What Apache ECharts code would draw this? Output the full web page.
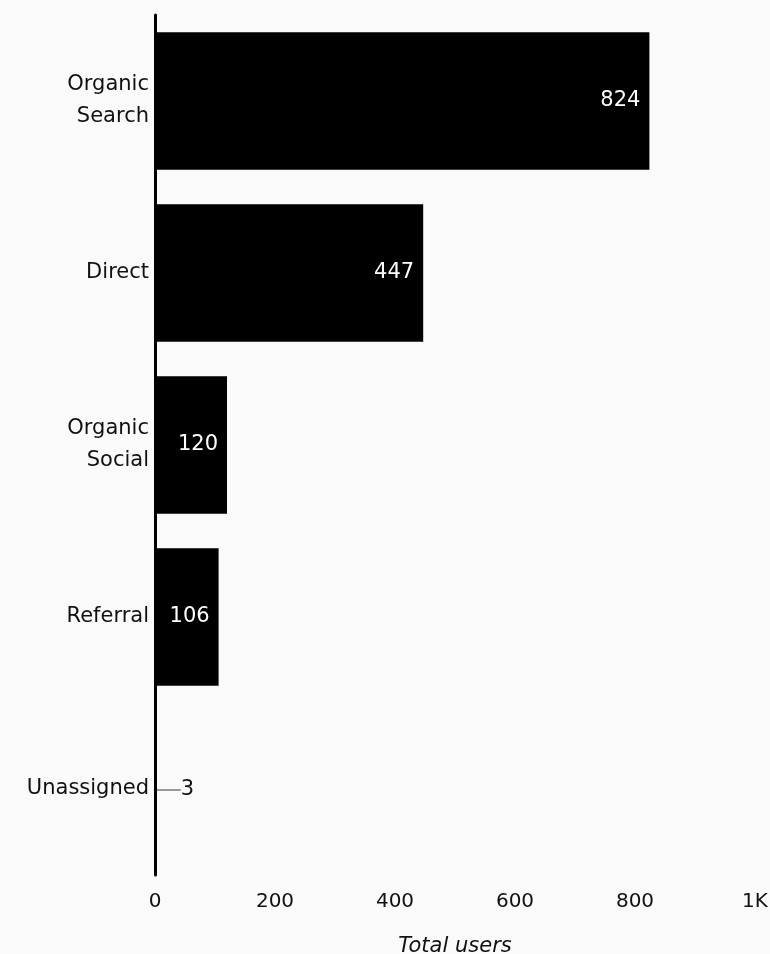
<!DOCTYPE html>
<html>
<head>
<meta charset="utf-8">
<script src="https://cdn.jsdelivr.net/npm/echarts@6/dist/echarts.min.js"></script>
<style>
  html, body { margin: 0; padding: 0; background: #fafafa; }
  #chart { width: 770px; height: 954px; }
</style>
</head>
<body>
<div id="chart"></div>
<script>
// Users by session channel
const channels = ['Organic\nSearch', 'Direct', 'Organic\nSocial', 'Referral', 'Unassigned'];
const totalUsers = [824, 447, 120, 106, 3];
const xTicks = { min: 0, max: 1000, interval: 200 };

const FONT = '"DejaVu Sans", sans-serif';
const SMALL = 30; // values below this are labelled outside the bar

const chart = echarts.init(document.getElementById('chart'));
chart.setOption({
  backgroundColor: '#fafafa',
  animation: false,
  grid: { left: 155, right: 15, top: 15, bottom: 79, containLabel: false, outerBoundsMode: 'none' },
  xAxis: {
    type: 'value',
    min: xTicks.min,
    max: xTicks.max,
    interval: xTicks.interval,
    name: 'Total users',
    nameLocation: 'middle',
    nameGap: 61,
    nameTextStyle: { fontFamily: FONT, fontSize: 21, fontStyle: 'italic', color: '#111' },
    axisLine: { show: false },
    axisTick: { show: false },
    splitLine: { show: false },
    axisLabel: {
      fontFamily: FONT, fontSize: 20, color: '#111', margin: 17,
      formatter: v => (v >= 1000 ? (v / 1000) + 'K' : String(v))
    }
  },
  yAxis: {
    type: 'category',
    data: channels,
    inverse: true,
    axisLine: { show: true, lineStyle: { color: '#000', width: 3 } },
    axisTick: { show: false },
    axisLabel: { fontFamily: FONT, fontSize: 21, color: '#111', margin: 6, lineHeight: 32, align: 'right' }
  },
  series: [{
    type: 'bar',
    data: totalUsers.map(v => v < SMALL
      ? { value: v, label: { color: '#111', position: 'right' } }
      : v),
    barCategoryGap: '20%',
    itemStyle: { color: '#000' },
    label: {
      show: true,
      position: 'insideRight',
      distance: 9,
      color: '#fff',
      fontFamily: FONT,
      fontSize: 21
    },
    labelLine: { show: true, lineStyle: { color: '#999', width: 2 } },
    labelLayout: function (p) {
      if (totalUsers[p.dataIndex] < SMALL) {
        return {
          x: p.rect.x + p.rect.width + 24,
          y: p.rect.y + p.rect.height / 2 + 1,
          align: 'left',
          verticalAlign: 'middle'
        };
      }
      return {};
    }
  }]
});
</script>
</body>
</html>
